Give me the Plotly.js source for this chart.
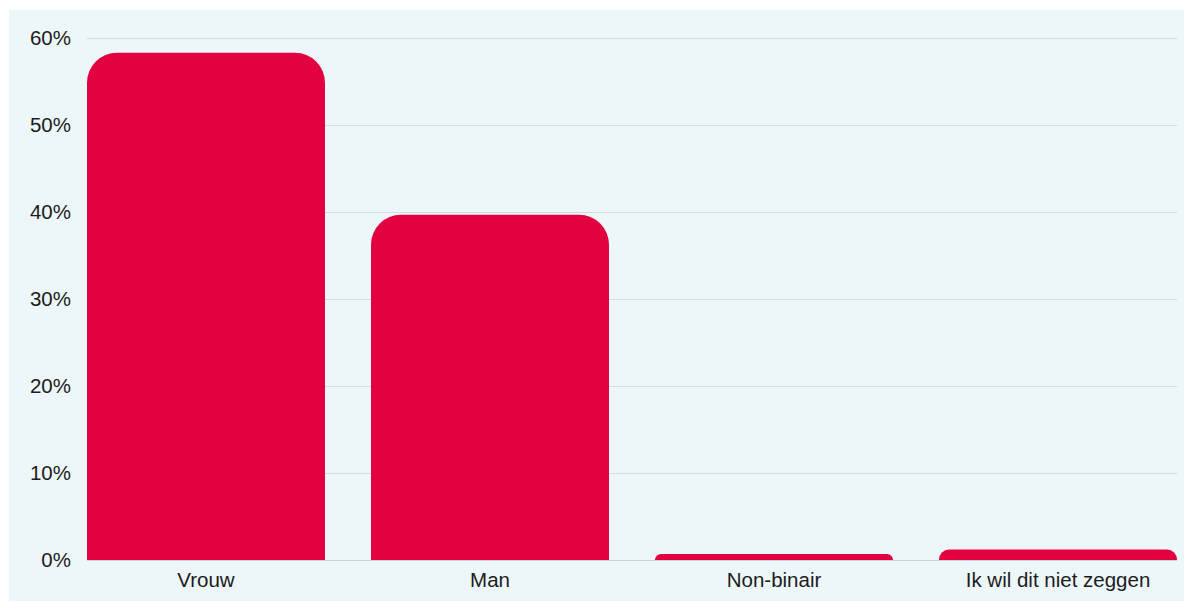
<!DOCTYPE html>
<html>
<head>
<meta charset="utf-8">
<script src="https://cdn.plot.ly/plotly-3.0.1.min.js"></script>
<style>
html, body { margin: 0; padding: 0; background: #ffffff; }
#chart { position: absolute; left: 9px; top: 10px; width: 1175px; height: 591px; }
</style>
</head>
<body>
<div id="chart"></div>
<script>
const categories = ["Vrouw", "Man", "Non-binair", "Ik wil dit niet zeggen"];
const percentages = [58.3, 39.7, 0.7, 1.2];
const yTickValues = [0, 10, 20, 30, 40, 50, 60];

const trace = {
  type: "bar",
  x: categories.map((c, i) => i),
  y: percentages,
  marker: { color: "#e2023f", cornerradius: 30, line: { width: 0 } },
  hoverinfo: "skip"
};

const layout = {
  width: 1175,
  height: 591,
  margin: { l: 78, r: 7, t: 25, b: 41 },
  paper_bgcolor: "#edf6f8",
  plot_bgcolor: "#edf6f8",
  showlegend: false,
  bargap: 0.162,
  font: { family: "Liberation Sans, Arial, sans-serif", size: 20.5, color: "#1c1c1c" },
  xaxis: {
    range: [-0.419, 3.419],
    tickmode: "array",
    tickvals: categories.map((c, i) => i),
    ticktext: categories,
    showgrid: false,
    zeroline: false,
    showline: false,
    ticks: "",
    ticklabelstandoff: 5,
    fixedrange: true
  },
  yaxis: {
    range: [0, 60.35],
    tickmode: "array",
    tickvals: yTickValues,
    ticktext: yTickValues.map(v => v + "%"),
    showgrid: true,
    gridcolor: "#d3dbdf",
    gridwidth: 1,
    zeroline: true,
    zerolinecolor: "#cfd6da",
    zerolinewidth: 1,
    showline: false,
    ticks: "",
    ticklabelstandoff: 15,
    fixedrange: true
  }
};

Plotly.newPlot("chart", [trace], layout, { displayModeBar: false, staticPlot: true });
</script>
</body>
</html>
